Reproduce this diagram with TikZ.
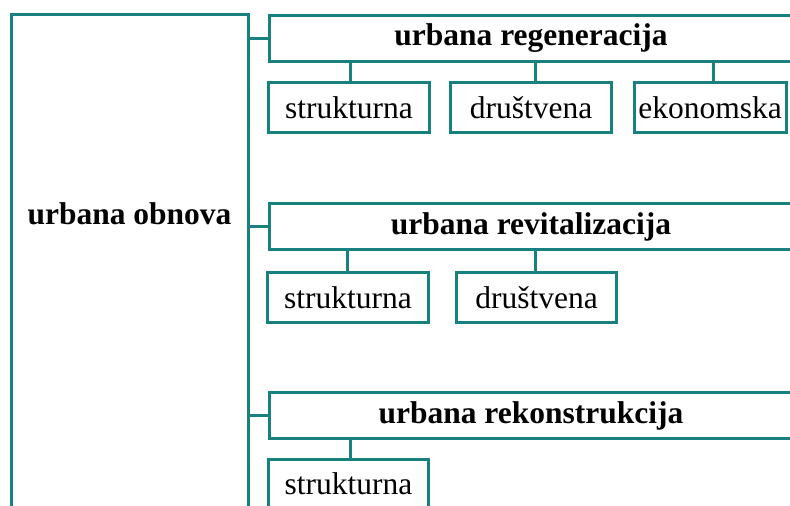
\documentclass[tikz,border=0pt]{standalone}
\usepackage{fontspec}
\setmainfont{Liberation Serif}
\definecolor{tealline}{RGB}{24,128,126}

\begin{document}
\begin{tikzpicture}[x=1pt,y=-1pt,
    box/.style={draw=tealline, line width=3pt, inner sep=0pt, minimum height=48pt,
      font=\fontsize{31.5}{36}\selectfont},
    head/.style={box, font=\fontsize{31.5}{36}\selectfont\bfseries, minimum width=524pt, minimum height=46pt},
    sub/.style={box, minimum height=50pt},
    link/.style={draw=tealline, line width=3pt}]
  % Page size, cut at the edges
  \useasboundingbox (0,0) rectangle (790,506);
  \clip (0,0) rectangle (790,506);
  % Left block
  \node[box, minimum width=237pt, minimum height=530pt] (obnova) at (129.5,279) {};
  \node[font=\fontsize{31.5}{36}\selectfont\bfseries] (obnovatxt) at (129.5,214) {urbana obnova};
  % Headers
  \node[head] (reg) at (531,38.5) {urbana regeneracija};
  \node[head] (rev) at (531,226.5) {urbana revitalizacija};
  \node[head] (rek) at (531,415.5) {urbana rekonstrukcija};
  % First row
  \node[sub, minimum width=161pt] (reg1) at (349,107.5) {strukturna};
  \node[sub, minimum width=161pt] (reg2) at (531,107.5) {društvena};
  \node[sub, minimum width=152pt] (reg3) at (710,107.5) {ekonomska};
  % Second row
  \node[sub, minimum width=161pt] (rev1) at (348,297.5) {strukturna};
  \node[sub, minimum width=160pt] (rev2) at (536.5,297.5) {društvena};
  % Third row
  \node[sub, minimum width=160pt] (rek1) at (348.5,484) {strukturna};
  % Connectors
  \foreach \h in {reg,rev,rek}
    \draw[link] (obnova.east |- \h.west) -- (\h.west);
  \draw[link] (reg.south -| 350,0) -- (reg1.north -| 350,0);
  \draw[link] (reg.south -| 535,0) -- (reg2.north -| 535,0);
  \draw[link] (reg.south -| 713,0) -- (reg3.north -| 713,0);
  \draw[link] (rev.south -| 347,0) -- (rev1.north -| 347,0);
  \draw[link] (rev.south -| 535,0) -- (rev2.north -| 535,0);
  \draw[link] (rek.south -| 350,0) -- (rek1.north -| 350,0);
\end{tikzpicture}
\end{document}
